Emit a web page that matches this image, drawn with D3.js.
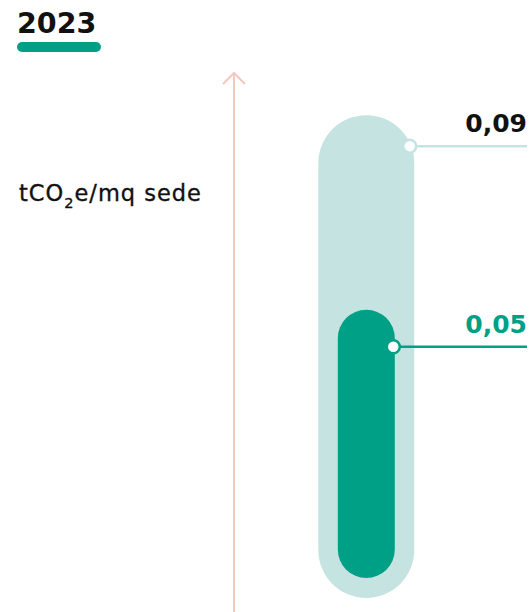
<!DOCTYPE html>
<html><head><meta charset="utf-8">
<script src="https://cdn.jsdelivr.net/npm/d3@7"></script>
<style>html,body{margin:0;padding:0;background:#fff;}svg{display:block;}</style>
</head><body>
<script>
const year = "2023";
const unitLabel = "tCO";
const categories = ["totale", "sede"];
const values = [0.09, 0.05];
const valueLabels = ["0,09", "0,05"];

const W = 531, H = 612;
const light = "#c5e4e1", dark = "#00a086", pink = "#f7c6be";
const svg = d3.select("body").append("svg").attr("width", W).attr("height", H);

// title
svg.append("text").attr("x", 17).attr("y", 33).text(year)
  .attr("font-family", "'DejaVu Sans', sans-serif").attr("font-weight", 700).attr("font-size", 28.5).attr("fill", "#111");
svg.append("rect").attr("x", 17).attr("y", 42).attr("width", 84).attr("height", 10).attr("rx", 5).attr("fill", dark);

// unit label
const ul = svg.append("text").attr("x", 19).attr("y", 201)
  .attr("font-family", "'DejaVu Sans', sans-serif").attr("font-weight", 400).attr("font-size", 22.5)
  .attr("letter-spacing", 1).attr("fill", "#111").attr("stroke", "#111").attr("stroke-width", 0.35);
ul.append("tspan").text(unitLabel);
ul.append("tspan").text("2").attr("font-size", 14.5).attr("dy", 7);
ul.append("tspan").text("e/mq sede").attr("dy", -7);

// axis arrow
const ax = 234;
svg.append("line").attr("x1", ax).attr("x2", ax).attr("y1", 73).attr("y2", H).attr("stroke", pink).attr("stroke-width", 2);
svg.append("path").attr("d", `M${ax-11},${84} L${ax},${73} L${ax+11},${84}`).attr("fill", "none").attr("stroke", pink).attr("stroke-width", 2);

// scale: value -> height
const h = d3.scaleLinear().domain([0, 0.1]).range([0, 536.5]);
const cx = 366.3;
const bars = [
  {w: 96, base: 598, fill: light, circOff: 31, labelColor: "#111"},
  {w: 57, base: 578, fill: dark, circOff: 37, labelColor: dark}
];
function pill(x0, x1, top, bottom) {
  const r = (x1 - x0) / 2;
  return `M${x0},${top + r} A${r},${r} 0 0 1 ${x1},${top + r} L${x1},${bottom - r} A${r},${r} 0 0 1 ${x0},${bottom - r} Z`;
}
values.forEach((v, i) => {
  const b = bars[i];
  const top = b.base - h(v);
  const r = b.w / 2;
  svg.append("path").attr("d", pill(cx - r, cx + r, top, b.base)).attr("fill", b.fill);
});
values.forEach((v, i) => {
  const b = bars[i];
  const top = b.base - h(v);
  const r = b.w / 2;
  const cy = top + b.circOff;
  const dy = (top + r) - cy;
  const px = dy > 0 ? cx + Math.sqrt(r * r - dy * dy) : cx + r;
  const lineCol = i === 0 ? light : dark;
  svg.append("line").attr("x1", px).attr("x2", 527).attr("y1", cy).attr("y2", cy).attr("stroke", lineCol).attr("stroke-width", 2.5);
  svg.append("circle").attr("cx", px - 1.5).attr("cy", cy).attr("r", 6.5).attr("fill", "#fff").attr("stroke", lineCol).attr("stroke-width", 2.5);
  svg.append("text").attr("x", 527).attr("y", cy - 14).attr("text-anchor", "end").text(valueLabels[i])
    .attr("font-family", "'DejaVu Sans', sans-serif").attr("font-weight", 700).attr("font-size", 25).attr("fill", b.labelColor);
});
</script>
</body></html>
